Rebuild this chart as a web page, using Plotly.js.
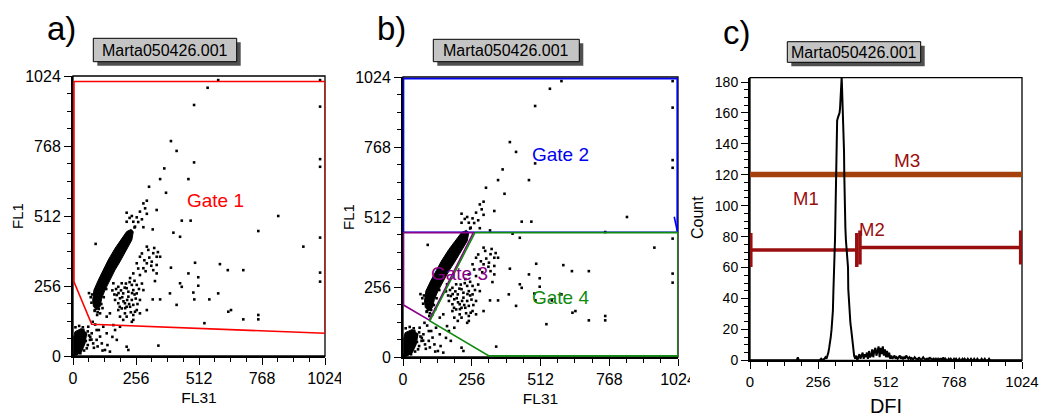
<!DOCTYPE html>
<html><head><meta charset="utf-8">
<script src="https://cdn.plot.ly/plotly-3.0.1.min.js"></script>
<style>html,body{margin:0;padding:0;background:#fff}#chart{width:1052px;height:419px}</style>
</head><body><div id="chart"></div>
<script>
// ---------- DATA ----------
const sampleName = 'Marta050426.001';
const panelLetters = ['a)', 'b)', 'c)'];
const scatterTicks = [0, 256, 512, 768, 1024];

// individual events (FL31, FL1)
const fl31 = [590,1004,547,492,1004,398,421,492,1004,1004,371,354,469,309,378,300,286,340,442,478,834,753,408,435,324,936,1004,92,398,496,597,629,692,469,509,1004,
218,239,259,272,293,245,252,286,218,265,230,280,300,
306,326,340,354,320,300,340,272,259,286,326,340,272,245,310,290,330,345,318,295,265,280,300,
333,435,442,509,394,489,554,590,354,324,421,493,631,642,692,753,753,534,1004,347,300,272,245,252,259,286,272,218,178,218,225,171,137,110,130,150,96,117,76,96,123,164,191,137,110,89,150,191,211,184,62,42,49,69,82,56,
164,184,198,218,239,245,259,204,178,225,191,239,171,211,232,198,184,245,259,245,218,239,204,
210,225,195,230,250,205,220,185,240,215,200,175,255,228,190,212,235,262,268,280,160,168,250,232,
75,78,72,88,100,105,115,125,135,150,165,185,205,225,250,65,98,120,
10,25,40,60,65,70,75,60,45,30,5,20,38,52,85,100,120,140,160,105,90,80];
const fl1 = [1009,1009,981,918,912,786,750,708,720,692,686,647,647,619,597,568,558,534,495,495,512,457,451,436,463,400,433,410,323,341,336,314,314,302,288,305,
524,512,507,528,540,491,473,471,491,490,505,500,520,
388,376,363,363,345,339,333,363,339,321,314,302,296,302,360,350,395,380,330,310,320,375,400,
274,266,253,257,229,232,207,229,207,207,187,207,162,168,134,150,134,120,272,38,168,156,132,162,229,241,205,180,59,34,22,95,83,71,22,16,59,46,83,95,107,113,107,144,156,168,156,144,156,168,107,95,83,59,46,28,
266,253,266,248,260,241,260,229,223,217,211,205,205,193,180,174,193,187,168,150,144,125,132,
250,235,240,270,225,200,205,230,230,265,215,245,210,190,180,175,160,190,245,265,240,225,275,285,
195,225,215,165,160,172,190,215,245,290,330,372,410,440,470,230,150,175,
105,110,105,90,75,70,60,40,20,10,5,50,60,55,30,35,20,40,70,95,115,125];

// dense regions (outline of the saturated event clouds)
const bandFL31 = [236,245,239,218,191,171,150,130,117,110,96,83,80,85,103,123,143,171,198,218,236];
const bandFL1  = [463,455,424,388,345,315,278,241,211,181,168,181,205,241,278,315,351,394,430,455,463];
const lowFL31  = [8,35,56,49,35,15,3,3,3,8];
const lowFL1   = [89,101,83,46,16,3,3,34,70,89];

// gates
const gate1X = [4,1024,1024,76,4,4];
const gate1Y = [1004,1004,83,116,271,1004];
const gate2X = [2,2,1021,1021,2,null,1010,1021];
const gate2Y = [456,1018,1018,456,456,null,513,462];
const gate3X = [2,262,98,2,2];
const gate3Y = [455,455,135,190,455];
const gate4X = [268,1024,1024,320,100,268];
const gate4Y = [455,455,4,4,132,455];

// DFI histogram
const dfi = [0,170,176,180,184,190,
262,268,274,280,284,288,292,295,298,301,304,307,310,312,314,316,318,320,322,324,326,328,331,334,337,339,341,343,344,345,346,348,350,351,353,354,355,356,357,359,361,364,367,369,370,372,375,378,381,383,386,389,392,
396,400,404,408,412,416,420,424,428,432,436,440,444,448,452,
456,460,464,468,472,476,480,484,488,492,496,500,504,508,512,516,520,524,528,532,
536,540,544,548,552,556,560,564,568,572,576,580,584,588,592,596,600,
604,608,612,616,620,624,628,632,636,640,644,648,652,656,660,664,668,672,676,680,684,688,692,696,700,
704,708,712,716,720,724,728,732,736,740,744,748,752,756,760,764,768,772,776,780,784,788,792,796,800,804,808,812,816,820,824,828,832,836,840,844,848,852,856,860,864,868,872,876,880,884,888,892,896,900,
904,1023];
const counts = [0,0,0,2,0,0,
0,1,0,1,2,1,3,5,8,11,15,20,26,32,45,55,62,78,97,123,145,155,157,158,160,163,168,176,182,183,179,168,163,161,150,135,120,105,97,86,78,72,66,60,46,38,30,24,20,16,10,5,3,
1,3,0,2,4,1,3,5,1,4,2,5,1,6,2,
3,7,2,6,8,3,7,9,2,8,4,9,3,7,2,6,2,5,1,3,
1,2,3,1,2,1,2,3,1,2,1,2,1,3,2,1,2,
1,2,0,1,2,1,1,0,2,1,0,1,2,1,0,1,1,0,2,1,1,0,1,0,1,
0,1,0,1,1,0,2,0,1,0,0,1,0,1,0,0,1,0,1,0,0,1,0,0,1,0,1,0,0,1,0,0,1,0,0,1,0,0,1,0,0,0,1,0,0,1,0,0,0,1,
0,0];
const countTicks = [0,20,40,60,80,100,120,140,160,180];

// histogram markers
const markerNames = ['M1','M2','M3'];
const markerStart = [3,414,0];
const markerEnd   = [402,1019,1024];
const markerLevel = [71.3,73,120.2];

// ---------- STYLE / LAYOUT ----------
const W = 1052, H = 419;
const px = v => v / W, py = v => 1 - v / H;
const FONT = 'Liberation Sans, Arial, sans-serif';
const RED = '#ff0000', BLUE = '#0000ee', PURPLE = '#8a008a', GREEN = '#108a10';
const MRED = '#990e0e', MORANGE = '#a5420c';

const traces = [];
function pts(ax) {
  traces.push({x: fl31, y: fl1, xaxis: ax[0], yaxis: ax[1], type: 'scatter', mode: 'markers',
    marker: {symbol: 'square', size: 2.6, color: '#000', line: {width: 0}}, hoverinfo: 'skip', cliponaxis: true});
  traces.push({x: bandFL31, y: bandFL1, xaxis: ax[0], yaxis: ax[1], type: 'scatter', mode: 'lines',
    fill: 'toself', fillcolor: '#000', line: {color: '#000', width: 1}, hoverinfo: 'skip'});
  traces.push({x: lowFL31, y: lowFL1, xaxis: ax[0], yaxis: ax[1], type: 'scatter', mode: 'lines',
    fill: 'toself', fillcolor: '#000', line: {color: '#000', width: 1}, hoverinfo: 'skip'});
}
function gate(gx, gy, color, ax) {
  traces.push({x: gx, y: gy, xaxis: ax[0], yaxis: ax[1], type: 'scatter', mode: 'lines',
    line: {color: color, width: 1.6}, hoverinfo: 'skip', connectgaps: false});
}
pts(['x', 'y']);
gate(gate1X, gate1Y, RED, ['x', 'y']);
pts(['x2', 'y2']);
gate(gate2X, gate2Y, BLUE, ['x2', 'y2']);
gate(gate3X, gate3Y, PURPLE, ['x2', 'y2']);
gate(gate4X, gate4Y, GREEN, ['x2', 'y2']);

// markers
const capHalf = 11;
for (let i = 0; i < markerNames.length; i++) {
  const isM3 = markerNames[i] === 'M3';
  traces.push({x: [markerStart[i], markerEnd[i]], y: [markerLevel[i], markerLevel[i]], xaxis: 'x3', yaxis: 'y3',
    type: 'scatter', mode: 'lines', line: {color: isM3 ? MORANGE : MRED, width: isM3 ? 5.5 : 3.5}, hoverinfo: 'skip', cliponaxis: false});
  if (!isM3) {
    traces.push({x: [markerStart[i], markerStart[i], null, markerEnd[i], markerEnd[i]],
      y: [markerLevel[i] - capHalf, markerLevel[i] + capHalf, null, markerLevel[i] - capHalf, markerLevel[i] + capHalf],
      xaxis: 'x3', yaxis: 'y3', type: 'scatter', mode: 'lines', line: {color: MRED, width: 3.5}, hoverinfo: 'skip', cliponaxis: false});
  }
}
traces.push({x: dfi, y: counts, xaxis: 'x3', yaxis: 'y3', type: 'scatter', mode: 'lines',
  line: {color: '#000', width: 2}, hoverinfo: 'skip'});

function axis(domain, anchor, range, minor, title, tsize, tickvals, tfs, standoff) {
  const a = {domain, anchor, range, tickmode: 'array', tickvals: tickvals, ticktext: tickvals.map(String),
    ticks: 'outside', ticklen: 7, tickwidth: 1, tickcolor: '#000',
    minor: {dtick: minor, tick0: 0, ticks: 'outside', ticklen: 4, tickwidth: 1, tickcolor: '#000', showgrid: false},
    showgrid: false, zeroline: false, showline: true, linecolor: '#000', linewidth: 2,
    tickfont: {size: tfs, color: '#000', family: FONT}, fixedrange: true};
  if (title) a.title = {text: title, standoff: standoff, font: {size: tsize, color: '#000', family: FONT}};
  return a;
}

const domA = {x: [px(73), px(325)], y: [py(356), py(76)]};
const domB = {x: [px(403), px(678)], y: [py(357), py(77)]};
const domC = {x: [px(750), px(1022)], y: [py(360.3), py(77.7)]};

const layout = {
  width: W, height: H, margin: {l: 0, r: 0, t: 0, b: 0}, showlegend: false,
  paper_bgcolor: '#fff', plot_bgcolor: '#fff', font: {family: FONT, color: '#000'},
  xaxis: axis(domA.x, 'y', [0, 1024], 64, 'FL31', 15.5, scatterTicks, 16, 6),
  yaxis: axis(domA.y, 'x', [0, 1024], 64, null, 15, scatterTicks, 16, 0),
  xaxis2: axis(domB.x, 'y2', [0, 1024], 64, 'FL31', 15.5, scatterTicks, 16, 6),
  yaxis2: axis(domB.y, 'x2', [0, 1024], 64, null, 15, scatterTicks, 16, 0),
  xaxis3: axis(domC.x, 'y3', [0, 1024], 64, 'DFI', 20, scatterTicks, 15, 10),
  yaxis3: axis(domC.y, 'x3', [0, 182.8], 5, null, 16, countTicks, 14, 0),
  shapes: [], annotations: []
};

// y-axis titles (placed as rotated text beside each axis)
[['FL1', 17, 216, 15], ['FL1', 348, 217, 15], ['Count', 697, 218, 16]].forEach(t => {
  layout.annotations.push({xref: 'paper', yref: 'paper', x: px(t[1]), y: py(t[2]), text: t[0], textangle: -90,
    showarrow: false, xanchor: 'center', yanchor: 'middle', font: {size: t[3], color: '#000'}});
});

// frames
[['x', 'y'], ['x2', 'y2'], ['x3', 'y3']].forEach(a => {
  layout.shapes.push({type: 'rect', xref: a[0] + ' domain', yref: a[1] + ' domain', x0: 0, x1: 1, y0: 0, y1: 1,
    line: {color: '#000', width: 1.3}, layer: 'below'});
});

// sample name boxes
const boxes = [[93.3, 38.3, 236.7, 61.7], [433.3, 39.3, 579.3, 61.7], [787.3, 41.7, 920.7, 62.3]];
boxes.forEach(b => {
  layout.shapes.push({type: 'rect', xref: 'paper', yref: 'paper', x0: px(b[0] + 4), x1: px(b[2] + 4), y0: py(b[3] + 4), y1: py(b[1] + 4),
    fillcolor: '#505050', line: {width: 0}});
  layout.shapes.push({type: 'rect', xref: 'paper', yref: 'paper', x0: px(b[0]), x1: px(b[2]), y0: py(b[3]), y1: py(b[1]),
    fillcolor: '#c4c4c4', line: {color: '#000', width: 1}});
  layout.annotations.push({xref: 'paper', yref: 'paper', x: px((b[0] + b[2]) / 2), y: py((b[1] + b[3]) / 2),
    text: sampleName, showarrow: false, xanchor: 'center', yanchor: 'middle', font: {size: 16, color: '#000'}});
});

// clip the cut-off "1024" labels like the reference
layout.shapes.push({type: 'rect', xref: 'paper', yref: 'paper', x0: px(341), x1: px(350), y0: py(392), y1: py(364), fillcolor: '#fff', line: {width: 0}, layer: 'above'});
layout.shapes.push({type: 'rect', xref: 'paper', yref: 'paper', x0: px(690), x1: px(700), y0: py(392), y1: py(364), fillcolor: '#fff', line: {width: 0}, layer: 'above'});

// panel letters
[[45, 28], [375, 28], [721, 32]].forEach((p, i) => {
  layout.annotations.push({xref: 'paper', yref: 'paper', x: px(p[0]), y: py(p[1]), text: panelLetters[i], showarrow: false,
    xanchor: 'left', yanchor: 'middle', font: {size: 33, color: '#000'}});
});

// gate labels
const gl = (xr, yr, x, y, t, c, s) => layout.annotations.push({xref: xr, yref: yr, x, y, text: t, showarrow: false,
  xanchor: 'center', yanchor: 'middle', font: {size: s, color: c}});
gl('x', 'y', 581, 570, 'Gate 1', RED, 19);
gl('x2', 'y2', 585, 739, 'Gate 2', BLUE, 19);
gl('x2', 'y2', 212, 304, 'Gate 3', PURPLE, 19);
gl('x2', 'y2', 585, 218, 'Gate 4', GREEN, 19);
// marker labels
gl('x3', 'y3', 210, 104.8, 'M1', MRED, 18.5);
gl('x3', 'y3', 461, 84.3, 'M2', MRED, 18.5);
gl('x3', 'y3', 590, 129, 'M3', MRED, 19);

Plotly.newPlot('chart', traces, layout, {displayModeBar: false, staticPlot: true});
</script></body></html>
